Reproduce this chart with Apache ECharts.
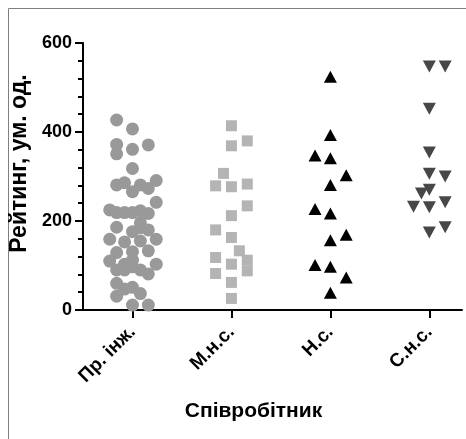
<!DOCTYPE html>
<html>
<head>
<meta charset="utf-8">
<script src="https://cdn.jsdelivr.net/npm/echarts@6/dist/echarts.min.js"></script>
<style>html,body{margin:0;padding:0;background:#fff}#c{width:466px;height:439px}</style>
</head>
<body>
<div id="c"></div>
<script>
const categories = ['Пр. інж.', 'М.н.с.', 'Н.с.', 'С.н.с.'];
const yTickValues = [0, 200, 400, 600];

const engValues = [427, 407, 372, 351, 361, 371, 318, 281, 286, 266, 281, 273, 291, 242,
  225, 219, 219, 219, 223, 217, 186, 196, 176, 180, 159, 153, 155, 159, 129, 131, 133,
  110, 103, 90, 90, 97, 90, 81, 103, 60, 51, 47, 37, 31, 11, 11, 112, 185];
const engJitter = [-0.16, 0, -0.16, -0.16, 0, 0.16, 0, -0.16, -0.08, 0, 0.08, 0.16, 0.24, 0.24,
  -0.23, -0.16, -0.08, 0, 0.08, 0.16, -0.16, 0.08, 0, 0.16, -0.23, -0.08, 0.08, 0.24, -0.16, 0, 0.16,
  -0.23, -0.08, -0.16, -0.08, 0, 0.08, 0.16, 0.24, -0.16, 0, -0.08, 0.08, -0.16, 0, 0.16, 0, 0.08];

const mnsValues = [414, 380, 369, 307, 279, 277, 283, 234, 212, 180, 163, 133, 118, 103, 112, 88, 82, 62, 26];
const mnsJitter = [0, 0.16, 0, -0.08, -0.16, 0, 0.16, 0.16, 0, -0.16, 0, 0.08, -0.16, 0, 0.16, 0.16, -0.16, 0, 0];

const nsValues = [524, 393, 347, 341, 303, 281, 227, 217, 169, 157, 101, 97, 73, 39];
const nsJitter = [0, 0, -0.155, 0, 0.16, 0, -0.155, 0, 0.16, 0, -0.155, 0, 0.16, 0];

const snsValues = [547, 547, 452, 354, 306, 300, 270, 262, 232, 231, 242, 174, 186];
const snsJitter = [0, 0.16, 0, 0, 0, 0.16, 0, -0.08, -0.16, 0, 0.16, 0, 0.16];

function pts(catIdx, values, jitter) {
  return values.map((v, i) => [catIdx + 1 + jitter[i], v]);
}

const chart = echarts.init(document.getElementById('c'), null, {renderer: 'canvas'});
const font = 'Liberation Sans, Arial, sans-serif';
chart.setOption({
  animation: false,
  backgroundColor: '#fff',
  graphic: [{
    type: 'rect', silent: true, z: -1,
    shape: {x: 8.5, y: 8.5, width: 470, height: 440},
    style: {fill: 'none', stroke: '#7f7f7f', lineWidth: 1}
  }],
  grid: {left: 83, top: 43, right: 4, bottom: 129, containLabel: false},
  xAxis: {
    type: 'value', min: 0.5, max: 4.33,
    name: 'Співробітник', nameLocation: 'middle', nameGap: 91,
    nameTextStyle: {fontFamily: font, fontWeight: 'bold', fontSize: 21, color: '#000', padding: [0, 38, 0, 0]},
    axisLine: {show: true, onZero: false, lineStyle: {color: '#000', width: 2}},
    axisTick: {show: true, customValues: [1, 2, 3, 4], length: 8, lineStyle: {color: '#000', width: 2}},
    axisLabel: {
      customValues: [1, 2, 3, 4], rotate: 45, margin: 19,
      formatter: v => categories[Math.round(v) - 1],
      fontFamily: font, fontWeight: 'bold', fontSize: 19, color: '#000'
    },
    splitLine: {show: false}
  },
  yAxis: {
    type: 'value', min: 0, max: 600, interval: 200,
    name: 'Рейтинг, ум. од.', nameLocation: 'middle', nameGap: 51,
    nameTextStyle: {fontFamily: font, fontWeight: 'bold', fontSize: 23, color: '#000', padding: [0, 0, 0, 26]},
    axisLine: {show: true, lineStyle: {color: '#000', width: 2}},
    axisTick: {show: true, length: 8, lineStyle: {color: '#000', width: 2}},
    minorTick: {show: true, splitNumber: 5, length: 5, lineStyle: {color: '#000', width: 2}},
    axisLabel: {
      margin: 11, fontFamily: font, fontWeight: 'bold', fontSize: 18, color: '#000',
      formatter: v => (yTickValues.indexOf(v) >= 0 ? String(v) : '')
    },
    splitLine: {show: false}
  },
  series: [
    {type: 'scatter', data: pts(0, engValues, engJitter), symbol: 'circle', symbolSize: 13,
     itemStyle: {color: '#999999', opacity: 1}},
    {type: 'scatter', data: pts(1, mnsValues, mnsJitter), symbol: 'rect', symbolSize: 11,
     itemStyle: {color: '#b4b4b4', opacity: 1}},
    {type: 'scatter', data: pts(2, nsValues, nsJitter), symbol: 'triangle', symbolSize: [13, 12],
     itemStyle: {color: '#000000', opacity: 1}},
    {type: 'scatter', data: pts(3, snsValues, snsJitter), symbol: 'triangle', symbolRotate: 180, symbolSize: [13, 12],
     itemStyle: {color: '#474747', opacity: 1}}
  ]
});
</script>
</body>
</html>
